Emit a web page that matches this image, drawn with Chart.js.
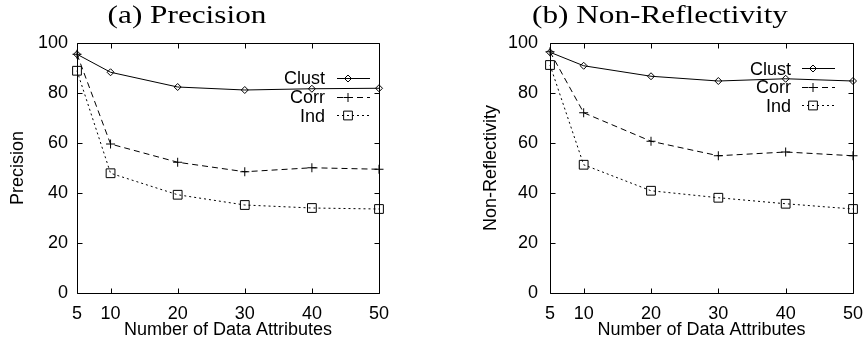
<!DOCTYPE html>
<html>
<head>
<meta charset="utf-8">
<script src="https://cdn.jsdelivr.net/npm/chart.js@4/dist/chart.umd.min.js"></script>
<style>
  body { margin: 0; background: #fff; }
  #wrap { position: relative; width: 865px; height: 345px; }
  .panel { position: absolute; top: 0; height: 345px; }
</style>
</head>
<body>
<div id="wrap">
  <div class="panel" style="left:0;width:432px"><canvas id="precisionChart"></canvas></div>
  <div class="panel" style="left:432px;width:433px"><canvas id="reflectChart"></canvas></div>
</div>
<script>
// data
const xValues = [5, 10, 20, 30, 40, 50];
const xTicks = [5, 10, 20, 30, 40, 50];
const yTicks = [0, 20, 40, 60, 80, 100];
const seriesNames = ['Clust', 'Corr', 'Ind'];

const precisionClust = [95.5, 88.3, 82.4, 81.2, 81.7, 81.9];
const precisionCorr = [95.5, 59.6, 52.3, 48.5, 50.1, 49.5];
const precisionInd = [88.9, 47.9, 39.3, 35.2, 34.0, 33.6];

const reflectClust = [96.3, 90.9, 86.7, 84.8, 85.7, 84.8];
const reflectCorr = [96.5, 72.1, 60.7, 54.9, 56.4, 54.9];
const reflectInd = [91.2, 51.3, 40.9, 38.1, 35.7, 33.6];

const SANS = "'Liberation Sans', Arial, Helvetica, sans-serif";
const SERIF = "'Liberation Serif', 'Times New Roman', serif";

// line / marker look per series
const seriesStyle = [
    { dash: [], point: 'rectRot', radius: 3.5 },
    { dash: [6, 4], point: 'cross', radius: 4.5 },
    { dash: [2, 3], point: 'rect', radius: 6.2 }
];

function drawMarker(ctx, style, x, y) {
    ctx.save();
    ctx.setLineDash([]);
    ctx.lineWidth = 1;
    ctx.strokeStyle = '#000';
    ctx.beginPath();
    const r = style.radius;
    if (style.point === 'rectRot') {
        ctx.moveTo(x, y - r); ctx.lineTo(x + r, y); ctx.lineTo(x, y + r); ctx.lineTo(x - r, y); ctx.closePath();
    } else if (style.point === 'cross') {
        ctx.moveTo(x - r, y); ctx.lineTo(x + r, y); ctx.moveTo(x, y - r); ctx.lineTo(x, y + r);
    } else {
        const s = r * Math.SQRT1_2;
        ctx.rect(x - s, y - s, 2 * s, 2 * s);
    }
    ctx.stroke();
    ctx.restore();
}

// frame box with inward ticks on all four sides, like gnuplot
const framePlugin = {
    id: 'frame',
    beforeDatasetsDraw(chart) {
        const ctx = chart.ctx;
        const a = chart.chartArea;
        const xs = chart.scales.x, ys = chart.scales.y;
        ctx.save();
        ctx.strokeStyle = '#000';
        ctx.lineWidth = 1;
        ctx.beginPath();
        const L = Math.round(a.left) + 0.5, R = Math.round(a.right) + 0.5;
        const T = Math.round(a.top) + 0.5, B = Math.round(a.bottom) + 0.5;
        ctx.rect(L, T, R - L, B - T);
        const len = 5;
        xs.ticks.forEach(t => {
            const px = Math.round(xs.getPixelForValue(t.value)) + 0.5;
            ctx.moveTo(px, B); ctx.lineTo(px, B - len);
            ctx.moveTo(px, T); ctx.lineTo(px, T + len);
        });
        ys.ticks.forEach(t => {
            const py = Math.round(ys.getPixelForValue(t.value)) + 0.5;
            ctx.moveTo(L, py); ctx.lineTo(L + len, py);
            ctx.moveTo(R, py); ctx.lineTo(R - len, py);
        });
        ctx.stroke();
        ctx.restore();
    },
    afterDraw(chart) {
        const opts = chart.options.plugins.frame;
        const ctx = chart.ctx;
        ctx.save();
        // panel title, serif, a little wide like the original figure
        ctx.fillStyle = '#000';
        ctx.font = '25px ' + SERIF;
        ctx.textAlign = 'center';
        ctx.textBaseline = 'alphabetic';
        ctx.translate(opts.titleX, 22.5);
        ctx.scale(1.25, 1);
        ctx.fillText(opts.title, 0, 0);
        ctx.restore();

        // key: label on the left, line sample with marker on the right
        ctx.save();
        ctx.font = '18px ' + SANS;
        ctx.fillStyle = '#000';
        ctx.textAlign = 'right';
        ctx.textBaseline = 'alphabetic';
        chart.data.datasets.forEach((ds, i) => {
            const y = opts.keyY + i * opts.keyDy;
            const st = seriesStyle[i];
            ctx.fillText(ds.label, opts.keyTextRight, y + 6.4);
            ctx.beginPath();
            ctx.lineWidth = 1;
            ctx.strokeStyle = '#000';
            ctx.setLineDash(st.dash);
            ctx.moveTo(opts.keyLineX0, Math.round(y) + 0.5);
            ctx.lineTo(opts.keyLineX1, Math.round(y) + 0.5);
            ctx.stroke();
            drawMarker(ctx, st, opts.keyLineX0 + 11, Math.round(y) + 0.5);
        });
        ctx.restore();
    }
};

function makeChart(canvasId, yTitle, series, layout) {
    const canvas = document.getElementById(canvasId);
    const datasets = series.map((vals, i) => ({
        label: seriesNames[i],
        data: xValues.map((x, k) => ({ x: x, y: vals[k] })),
        borderColor: '#000',
        borderWidth: 1,
        borderDash: seriesStyle[i].dash,
        pointStyle: seriesStyle[i].point,
        pointRadius: seriesStyle[i].radius,
        pointBorderWidth: 1,
        pointBorderColor: '#000',
        pointBackgroundColor: 'rgba(0,0,0,0)',
        tension: 0,
        fill: false,
        clip: false
    }));

    return new Chart(canvas.getContext('2d'), {
        type: 'line',
        data: { datasets: datasets },
        options: {
            responsive: true,
            maintainAspectRatio: false,
            animation: false,
            layout: { padding: { left: 0, right: layout.right, top: 43, bottom: 0 } },
            plugins: {
                legend: { display: false },
                tooltip: { enabled: false },
                frame: layout.frame
            },
            scales: {
                x: {
                    type: 'linear',
                    min: 5,
                    max: 50,
                    afterBuildTicks: (scale) => { scale.ticks = xTicks.map(v => ({ value: v })); },
                    afterFit: (scale) => { scale.height = 52; scale.paddingLeft = 0; scale.paddingRight = 0; },
                    grid: { display: false, drawTicks: false },
                    border: { display: false },
                    ticks: { color: '#000', font: { family: SANS, size: 18 }, padding: 10, maxRotation: 0, autoSkip: false },
                    title: {
                        display: true,
                        text: 'Number of Data Attributes',
                        color: '#000',
                        font: { family: SANS, size: 18 },
                        padding: { top: 0, bottom: 4 }
                    }
                },
                y: {
                    min: 0,
                    max: 100,
                    afterBuildTicks: (scale) => { scale.ticks = yTicks.map(v => ({ value: v })); },
                    afterFit: (scale) => { scale.width = layout.yWidth; scale.paddingTop = 0; scale.paddingBottom = 0; },
                    grid: { display: false, drawTicks: false },
                    border: { display: false },
                    ticks: { color: '#000', font: { family: SANS, size: 18 }, padding: layout.tickPad },
                    title: {
                        display: true,
                        text: yTitle,
                        color: '#000',
                        font: { family: SANS, size: 18 },
                        padding: { top: layout.titlePad, bottom: 0 }
                    }
                }
            }
        },
        plugins: [framePlugin]
    });
}

makeChart('precisionChart', 'Precision', [precisionClust, precisionCorr, precisionInd], {
    right: 53, yWidth: 77, tickPad: 9, titlePad: 7,
    frame: { title: '(a) Precision', titleX: 187, keyY: 77.7, keyDy: 18.8, keyTextRight: 325, keyLineX0: 337, keyLineX1: 370 }
});

makeChart('reflectChart', 'Non-Reflectivity', [reflectClust, reflectCorr, reflectInd], {
    right: 12, yWidth: 118, tickPad: 12, titlePad: 48,
    frame: { title: '(b) Non-Reflectivity', titleX: 228, keyY: 68.3, keyDy: 18.4, keyTextRight: 359, keyLineX0: 370, keyLineX1: 403 }
});
</script>
</body>
</html>
